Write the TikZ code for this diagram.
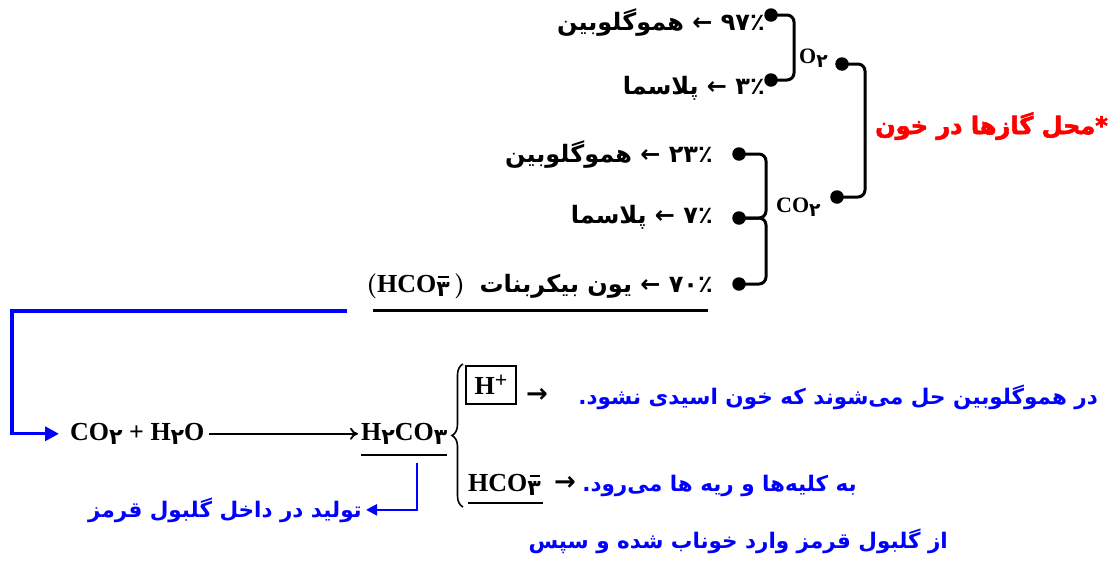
\documentclass[tikz,border=0pt]{standalone}
\usepackage{fontspec}
\setmainfont{Liberation Serif}
\newfontfamily\arf[Script=Arabic]{DejaVu Sans}
\newfontfamily\arfh[Script=Arabic,FakeBold=2.5]{DejaVu Sans}
\newfontfamily\djv{DejaVu Sans}
\usetikzlibrary{arrows.meta,decorations.pathreplacing,calc}
\TeXXeTstate=1
\definecolor{bl}{RGB}{0,0,255}
\definecolor{rd}{RGB}{255,0,0}
\newcommand\psub[1]{\raisebox{-0.4ex}{\scalebox{0.85}{\arf\bfseries #1}}}
\newcommand\pmsub[1]{\makebox[0pt][l]{\hspace{0.08em}\rule[1.2ex]{0.42em}{0.08em}}\raisebox{-0.4ex}{\scalebox{0.85}{\arf\bfseries #1}}}
\newcommand\larr{{\djv ←}}
\newcommand\rarr{{\djv\bfseries →}}
\begin{document}
\begin{tikzpicture}[x=1pt,y=-1pt,
 fa/.style={font=\arf\bfseries\fontsize{24}{28}\selectfont, inner sep=0pt},
 fb/.style={font=\arf\bfseries\fontsize{21.5}{25}\selectfont, text=bl, inner sep=0pt},
 ch/.style={font=\rmfamily\bfseries\fontsize{26}{30}\selectfont, inner sep=0pt},
 chs/.style={font=\rmfamily\bfseries\fontsize{22}{26}\selectfont, inner sep=0pt},
 dot/.style={circle, fill=black, inner sep=0pt, minimum size=13.5pt},
 brk/.style={line width=3pt, rounded corners=7pt},
 blarr/.style={draw=bl, line width=3.4pt, -{Triangle[length=14pt,width=14pt]}},
 thinarr/.style={line width=1.8pt, -{To[length=8pt,width=12pt]}},
 arr/.style={font=\fontsize{26}{30}\selectfont, inner sep=0pt},
]
\useasboundingbox (0,0) rectangle (1120,563);
% O2 group
\node[fa, anchor=base east] (l1) at (765,30) {\beginR هموگلوبین\endR\ \larr\ ۹۷٪};
\node[fa, anchor=base east] (l2) at (765,94) {\beginR پلاسما\endR\ \larr\ ۳٪};
\node[dot] (d1) at (771,15) {};
\node[dot] (d2) at (771,80) {};
\node[chs, anchor=base west] (o2) at (799,63) {O\psub{۲}};
\node[dot] (o2d) at (842,64) {};
% CO2 group
\node[fa, anchor=base east] (l3) at (713,162) {\beginR هموگلوبین\endR\ \larr\ ۲۳٪};
\node[fa, anchor=base east] (l4) at (713,223) {\beginR پلاسما\endR\ \larr\ ۷٪};
\node[fa, anchor=base east] (l5) at (713,292) {\beginR یون بیکربنات\endR\ \larr\ ۷۰٪};
\node[ch, anchor=base east, xshift=-14pt] (l5c) at (l5.base west) {{\boldmath$($}HCO\pmsub{۳}\,{\boldmath$)$}};
\node[dot] (c1) at (739,154) {};
\node[dot] (c2) at (739,218) {};
\node[dot] (c3) at (739,284) {};
\node[chs, anchor=base west] (co2) at (776,212) {CO\psub{۲}};
\node[dot] (co2d) at (837,197) {};
% title
\node[font=\arfh\bfseries\fontsize{24}{28}\selectfont, text=rd, anchor=base east, inner sep=0pt] (title) at (1108,134) {\beginR *محل گازها در خون\endR};
% brackets
\draw[brk] (d1.center) -- ++(23,0) |- (d2.center);
\draw[brk] (o2d.center) -- ++(23,0) |- (co2d.center);
\draw[brk] (c1.center) -- ++(27,0) |- (c2.center);
\draw[brk] (c2.center) -- ++(27,0) |- (c3.center);
\draw[line width=3pt] (373,310) -- (708,310);
% reaction
\node[ch, anchor=base west] (r1) at (70,440) {CO\psub{۲} + H\psub{۲}O};
\node[ch, anchor=base west] (r2) at (361,440) {H\psub{۲}CO\psub{۳}};
\draw[thinarr, shorten <=4pt, shorten >=3pt] (r1.east) -- (r2.west);
\draw[line width=1.5pt] (361,455) -- (447,455);
\coordinate (bs) at (347,311);
\draw[blarr, shorten >=11pt] (bs) -- (12,311) |- (r1.west);
\draw[line width=1.6pt, decorate, decoration={brace, amplitude=11pt}] (463,507) -- (463,364);
% upper branch
\node[ch, draw, line width=1.2pt, minimum width=50pt, minimum height=38pt, inner sep=0pt] (hp) at (491,385) {H\raisebox{0.55ex}{\fontsize{22}{26}\selectfont+}};
\node[arr] (a1) at (537,395) {\rarr};
\node[fb, anchor=base east] (t1) at (1098,404) {\beginR در هموگلوبین حل می‌شوند که خون اسیدی نشود.\endR};
% lower branch
\node[ch, anchor=base west] (hc) at (468,491) {HCO\pmsub{۳}};
\draw[line width=1.5pt] (468,503) -- (543,503);
\node[arr] (a2) at (565,483) {\rarr};
\node[fb, anchor=base east] (t2) at (857,491) {\beginR به کلیه‌ها و ریه ها می‌رود.\endR};
\node[fb, anchor=base east] (t3) at (948,548) {\beginR از گلبول قرمز وارد خوناب شده و سپس\endR};
% red-cell arrow
\coordinate (ua) at (417,463);
\node[fb, anchor=base east, inner xsep=4pt] (t4) at (366,517) {\beginR تولید در داخل گلبول قرمز\endR};
\draw[draw=bl, line width=2.4pt, -{Triangle[length=11pt,width=11pt]}] (ua) |- (t4.east);
\end{tikzpicture}
\end{document}
